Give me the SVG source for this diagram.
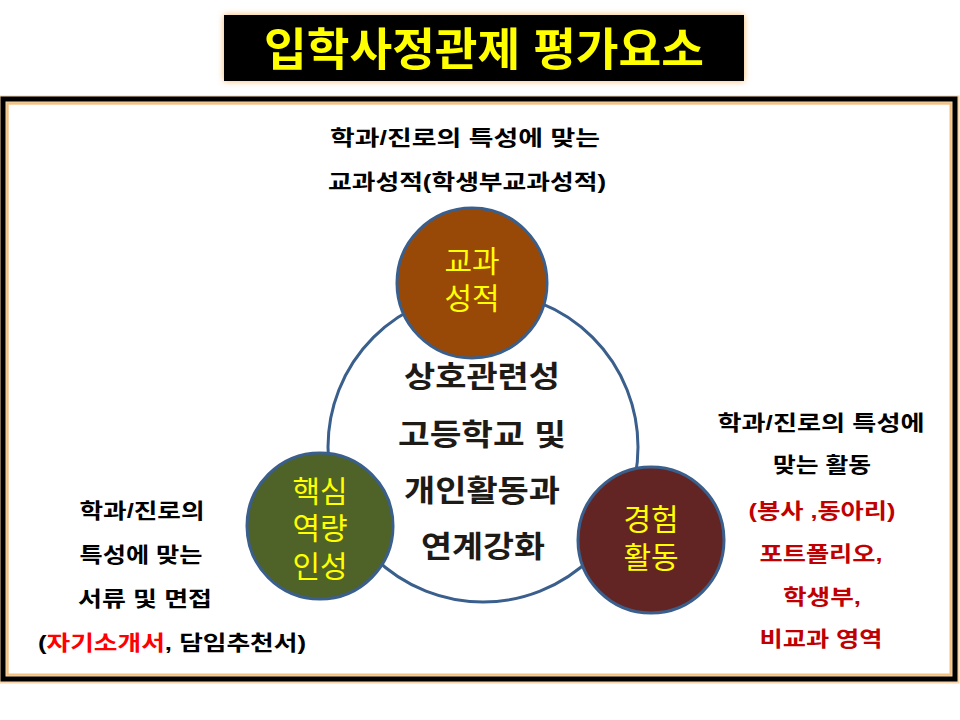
<svg xmlns="http://www.w3.org/2000/svg" width="960" height="720" viewBox="0 0 960 720">
<defs>
<filter id="glow" x="-10%" y="-10%" width="120%" height="120%">
<feGaussianBlur in="SourceAlpha" stdDeviation="3" result="b"/>
<feFlood flood-color="#f5b560" result="c"/>
<feComposite in="c" in2="b" operator="in" result="g"/>
<feMerge><feMergeNode in="g"/><feMergeNode in="SourceGraphic"/></feMerge>
</filter>
</defs>
<style>
text{font-family:"Liberation Sans","Noto Sans CJK KR",sans-serif;text-anchor:middle}
.lbl{font-size:21px;font-weight:bold;fill:#000}
.red{fill:#ff0000}
.dred{font-size:21px;font-weight:bold;fill:#c00000}
.ctr{font-size:30px;font-weight:bold;fill:#1e1b17}
.node{font-size:30px;fill:#ffff00}
.c{stroke:#3a5f8c;stroke-width:3}
</style>
<rect width="960" height="720" fill="#fff"/>
<g id="title" filter="url(#glow)">
<rect x="224" y="15" width="520" height="66" fill="#000"/>
<text x="484" y="66" textLength="440" lengthAdjust="spacingAndGlyphs" style="font-size:45px;font-weight:bold;fill:#ffff00">입학사정관제 평가요소</text>
</g>
<g id="frame">
<rect x="4" y="100" width="951" height="579" fill="none" stroke="#f2b870" stroke-width="9" opacity="0.6"/>
<rect x="3" y="99" width="952" height="580" fill="none" stroke="#000" stroke-width="5"/>
<rect x="7.5" y="103.5" width="943" height="571" fill="none" stroke="#f2c080" stroke-width="2"/>
</g>
<g id="connectors">
<circle cx="483" cy="447" r="155" fill="none" class="c"/>
</g>
<g id="node-grades">
<circle cx="472" cy="283" r="75" fill="#984807" class="c"/>
<text class="node" x="472" y="272">교과</text>
<text class="node" x="472" y="309">성적</text>
</g>
<g id="node-core">
<circle cx="320" cy="526" r="73" fill="#4f6228" class="c"/>
<text class="node" x="320" y="502">핵심</text>
<text class="node" x="320" y="539">역량</text>
<text class="node" x="320" y="577">인성</text>
</g>
<g id="node-exp">
<circle cx="651" cy="540" r="73" fill="#632523" class="c"/>
<text class="node" x="651" y="530">경험</text>
<text class="node" x="651" y="568">활동</text>
</g>
<g id="center-text">
<text class="ctr" x="482" y="387" textLength="156" lengthAdjust="spacingAndGlyphs">상호관련성</text>
<text class="ctr" x="482" y="445" textLength="168" lengthAdjust="spacingAndGlyphs">고등학교 및</text>
<text class="ctr" x="482" y="501" textLength="156" lengthAdjust="spacingAndGlyphs">개인활동과</text>
<text class="ctr" x="483" y="557" textLength="124" lengthAdjust="spacingAndGlyphs">연계강화</text>
</g>
<g id="top-text">
<text class="lbl" x="465" y="145" textLength="270" lengthAdjust="spacingAndGlyphs">학과/진로의 특성에 맞는</text>
<text class="lbl" x="467" y="189" textLength="278" lengthAdjust="spacingAndGlyphs">교과성적(학생부교과성적)</text>
</g>
<g id="left-text">
<text class="lbl" x="142" y="518" textLength="125" lengthAdjust="spacingAndGlyphs">학과/진로의</text>
<text class="lbl" x="141" y="562" textLength="123" lengthAdjust="spacingAndGlyphs">특성에 맞는</text>
<text class="lbl" x="145" y="606" textLength="134" lengthAdjust="spacingAndGlyphs">서류 및 면접</text>
<text class="lbl" x="172" y="650" textLength="268" lengthAdjust="spacingAndGlyphs">(<tspan class="red">자기소개서</tspan>, 담임추천서)</text>
</g>
<g id="right-text">
<text class="lbl" x="821" y="430" textLength="207" lengthAdjust="spacingAndGlyphs">학과/진로의 특성에</text>
<text class="lbl" x="822" y="472" textLength="98" lengthAdjust="spacingAndGlyphs">맞는 활동</text>
<text class="dred" x="822" y="518" textLength="147" lengthAdjust="spacingAndGlyphs">(봉사 ,동아리)</text>
<text class="dred" x="821" y="561" textLength="123" lengthAdjust="spacingAndGlyphs">포트폴리오,</text>
<text class="dred" x="822" y="604" textLength="78" lengthAdjust="spacingAndGlyphs">학생부,</text>
<text class="dred" x="821" y="646" textLength="123" lengthAdjust="spacingAndGlyphs">비교과 영역</text>
</g>
</svg>
